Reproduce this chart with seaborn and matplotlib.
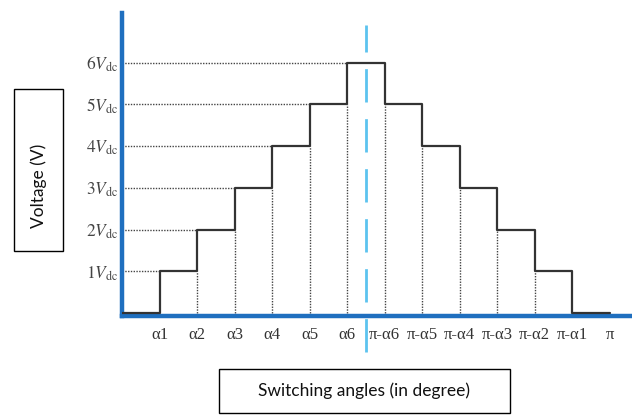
import numpy as np
import pandas as pd
import matplotlib
matplotlib.use("Agg")
import matplotlib.pyplot as plt
import seaborn as sns
from matplotlib.patches import Rectangle

# ---- data ----
step_x = [0, 1, 2, 3, 4, 5, 6, 7, 8, 9, 10, 11, 12, 13]
step_level = [0, 1, 2, 3, 4, 5, 6, 5, 4, 3, 2, 1, 0, 0]
tick_pos = [1, 2, 3, 4, 5, 6, 7, 8, 9, 10, 11, 12, 13]
tick_labels = ["α1", "α2", "α3", "α4", "α5", "α6",
               "π-α6", "π-α5", "π-α4", "π-α3", "π-α2", "π-α1", "π"]
y_levels = [1, 2, 3, 4, 5, 6]
y_labels = [r"$%dV_{\mathrm{dc}}$" % k for k in y_levels]
center_x = 6.5

sns.set_theme(style="white")
plt.rcParams["mathtext.fontset"] = "stix"
plt.rcParams["font.family"] = ["Liberation Serif", "DejaVu Serif"]

W, H = 632, 415
fig = plt.figure(figsize=(W / 100, H / 100), dpi=100)
ax = fig.add_axes([122 / W, (H - 315.5) / H, (W - 122) / W, (315.5 - 13) / H])
ax.set_xlim(0, (W - 122) / 37.5)
ax.set_ylim(-2.5 / 41.75, (313 - 13) / 41.75)

df = pd.DataFrame({"x": step_x, "v": step_level})

# dotted guide lines
dot_kw = dict(color="#444444", lw=1.0, ls=(0, (1, 1.0)), zorder=2)
for k in y_levels:
    ax.plot([0, step_x[k]], [k, k], **dot_kw)
for i in range(1, len(step_x) - 1):
    lo = min(step_level[i - 1], step_level[i])
    if lo > 0:
        ax.plot([step_x[i], step_x[i]], [0, lo], **dot_kw)

# staircase waveform
sns.lineplot(data=df, x="x", y="v", drawstyle="steps-post", color="#333333",
             lw=1.6, ax=ax, zorder=6)

# centre dashed line
ax.plot([center_x, center_x], [-0.93, 6.9], color="#5cc3ef", lw=2.0,
        ls=(0, (12, 6)), clip_on=False, zorder=3)

# axes styling
for s in ["top", "right"]:
    ax.spines[s].set_visible(False)
for s in ["left", "bottom"]:
    ax.spines[s].set_color("#1f6fbf")
    ax.spines[s].set_linewidth(3.2)
    ax.spines[s].set_zorder(5)
ax.set_xticks(tick_pos)
ax.set_xticklabels(tick_labels, fontsize=12, color="#333333")
ax.set_yticks(y_levels)
ax.set_yticklabels(y_labels, fontsize=12.5, color="#444444")
ax.tick_params(axis="x", length=0, pad=8)
ax.tick_params(axis="y", length=0, pad=3)
ax.set_xlabel("")
ax.set_ylabel("")

# boxed axis titles
fig.patches.append(Rectangle((14 / W, (H - 251) / H), 49 / W, 162 / H,
                             transform=fig.transFigure, fill=False,
                             edgecolor="black", lw=1.0))
fig.text(39 / W, 1 - 186 / H, "Voltage (V)", rotation=90, ha="center",
         va="center", fontsize=12.5, family=["Lato", "DejaVu Sans"], color="#111111")
fig.patches.append(Rectangle((219 / W, (H - 413) / H), 291 / W, 44 / H,
                             transform=fig.transFigure, fill=False,
                             edgecolor="black", lw=1.0))
fig.text(364 / W, 1 - 391 / H, "Switching angles (in degree)", ha="center",
         va="center", fontsize=12.5, family=["Lato", "DejaVu Sans"], color="#111111")

fig.savefig("out.png", dpi=100)
